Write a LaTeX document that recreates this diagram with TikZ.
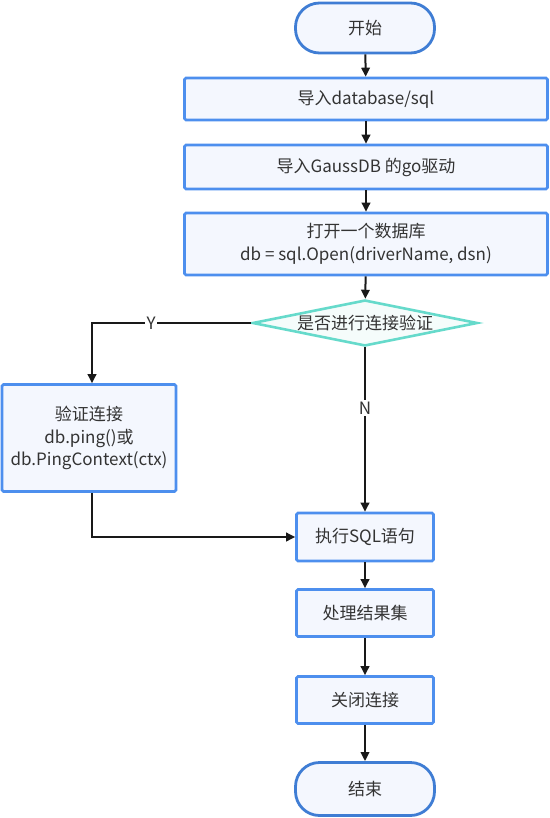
\documentclass[tikz,border=0pt]{standalone}
\usepackage{fontspec}
\setmainfont{Noto Sans CJK SC}
\usetikzlibrary{shapes.geometric,arrows.meta}
\definecolor{boxfill}{HTML}{F4F7FE}
\definecolor{boxdraw}{HTML}{4D8FEE}
\definecolor{termdraw}{HTML}{3F7DD4}
\definecolor{diadraw}{HTML}{66DACB}
\definecolor{diafill}{HTML}{F5FCFB}
\definecolor{txt}{HTML}{333333}
\begin{document}
\begin{tikzpicture}[x=1pt,y=-1pt,
  every node/.style={font=\fontsize{17}{22.5}\selectfont, text=txt},
  procbox/.style={draw=boxdraw, fill=boxfill, line width=2.6pt, rounded corners=1.5pt, align=center, inner sep=0pt},
  termbox/.style={draw=termdraw, fill=boxfill, line width=2.8pt, rounded corners=24pt, minimum width=139pt, minimum height=50pt, inner sep=0pt},
  conn/.style={draw=black!90, line width=2pt, -{Triangle[length=9pt,width=8.5pt]}},
  lbl/.style={fill=white, inner sep=1.5pt}
]
\useasboundingbox (0,0) rectangle (549,818);
\node[termbox] (start) at (365,28) {开始};
\node[procbox, minimum width=363pt, minimum height=42pt] (b1) at (366,99) {导入database/sql};
\node[procbox, minimum width=363pt, minimum height=44pt] (b2) at (366,167) {导入GaussDB 的go驱动};
\node[procbox, minimum width=363pt, minimum height=62pt] (b3) at (366,244) {打开一个数据库\\db = sql.Open(driverName, dsn)};
\node[diamond, draw=diadraw, fill=diafill, line width=2.6pt, minimum width=225pt, minimum height=46pt, inner sep=0pt] (dia) at (365,323) {};
\node at (dia.center) (diat) {是否进行连接验证};
\node[procbox, minimum width=174pt, minimum height=107pt] (ver) at (89,438) {验证连接\\db.ping()或\\db.PingContext(ctx)};
\node[procbox, minimum width=137pt, minimum height=48pt] (exec) at (365,537) {执行SQL语句};
\node[procbox, minimum width=137pt, minimum height=47pt] (proc) at (365,613) {处理结果集};
\node[procbox, minimum width=137pt, minimum height=47pt] (close) at (365,700) {关闭连接};
\node[termbox, minimum height=53pt] (end) at (365,789) {结束};
\draw[conn] (start) -- (b1);
\draw[conn] (b1) -- (b2);
\draw[conn] (b2) -- (b3);
\draw[conn] (b3) -- (dia);
\draw[conn] (dia.west) -| node[lbl, pos=0.314] {Y} (ver.north -| 92,0);
\draw[conn] (dia.south) -- node[lbl, pos=0.37] {N} (exec);
\draw[conn] (ver.south -| 92,0) |- (exec.west);
\draw[conn] (exec) -- (proc);
\draw[conn] (proc) -- (close);
\draw[conn] (close) -- (end);
\end{tikzpicture}
\end{document}
